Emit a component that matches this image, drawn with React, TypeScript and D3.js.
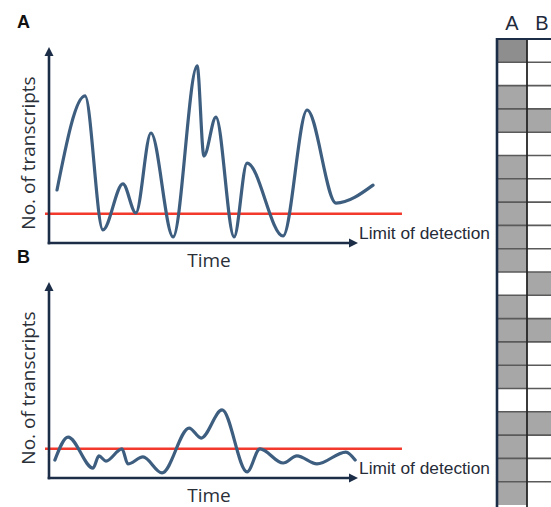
import React from "react";
import * as d3 from "d3";

// Panel A: transcript counts over time (arbitrary units)
const timeA = [2.6, 11.7, 17.5, 24.0, 28.2, 33.1, 40.3, 48.1, 50.3, 54.2, 60.1, 64.3, 76.0, 83.8, 93.2, 105.2];
const countA = [27.2, 75.4, 6.7, 30.3, 15.4, 56.4, 3.1, 90.8, 44.6, 64.6, 3.1, 41.0, 3.6, 68.2, 20.5, 29.7];

// Panel B
const timeB = [1.9, 6.2, 14.3, 16.2, 18.5, 23.7, 25.6, 30.5, 36.7, 45.5, 49.4, 56.2, 64.3, 68.5, 76.0, 80.5, 87.0, 96.4, 99.4];
const countB = [9.2, 21.0, 5.1, 11.3, 8.7, 14.9, 7.2, 10.8, 2.6, 25.6, 20.5, 34.9, 3.1, 14.9, 7.7, 11.3, 7.2, 13.3, 9.2];

const detectionLimit = 15;
const limitEnd = 114.6;

// Grid on the right: 0 = white, 1 = grey, 2 = dark grey
const gridCols = ["A", "B"];
const colA = [2, 0, 1, 1, 0, 1, 1, 1, 1, 1, 0, 1, 1, 1, 1, 0, 1, 1, 1, 1];
const colB = [0, 0, 0, 1, 0, 0, 0, 0, 0, 0, 1, 0, 1, 0, 0, 0, 1, 0, 0, 0];

const AXIS = "#1c2e47";
const CURVE = "#3e5e80";
const RED = "#f2392b";
const labelFont = "'Open Sans', sans-serif";

function Panel({ times, counts, top, letter }: { times: number[]; counts: number[]; top: number; letter: string }) {
  const x0 = 49;
  const yAxis = top + 195;
  const x = d3.scaleLinear().domain([0, 100]).range([x0, 357]);
  const y = d3.scaleLinear().domain([0, 100]).range([yAxis, yAxis - 195]);
  const pts: [number, number][] = times.map((t, i) => [x(t), y(counts[i])]);
  const line = d3.line().curve(d3.curveMonotoneX)(pts) || "";
  const yTop = y(100);
  const xEnd = x(100);
  return (
    <g>
      <text x={17} y={top - 20} fontFamily="'Liberation Sans', Arial, sans-serif" fontWeight="bold" fontSize={18} fill="#111">
        {letter}
      </text>
      <text
        transform={`translate(35,${top + 105}) rotate(-90)`}
        textAnchor="middle"
        fontFamily={labelFont}
        fontSize={19}
        fill="#2a2f38"
      >
        No. of transcripts
      </text>
      <text x={209} y={yAxis + 24} textAnchor="middle" fontFamily={labelFont} fontSize={19} fill="#2a2f38">
        Time
      </text>
      <line x1={45} x2={x(limitEnd)} y1={y(detectionLimit)} y2={y(detectionLimit)} stroke={RED} strokeWidth={2.6} />
      <path d={line} fill="none" stroke={CURVE} strokeWidth={3.2} strokeLinecap="round" />
      <line x1={x0} x2={x0} y1={yTop + 6} y2={yAxis + 1.3} stroke={AXIS} strokeWidth={2.6} />
      <line x1={x0 - 1.3} x2={xEnd - 6} y1={yAxis} y2={yAxis} stroke={AXIS} strokeWidth={2.6} />
      <path d={`M${x0},${yTop - 1} L${x0 - 4.5},${yTop + 8} L${x0 + 4.5},${yTop + 8} Z`} fill={AXIS} />
      <path d={`M${xEnd + 1},${yAxis} L${xEnd - 8},${yAxis - 4.5} L${xEnd - 8},${yAxis + 4.5} Z`} fill={AXIS} />
      <text
        x={359}
        y={yAxis - 4}
        fontFamily="'Liberation Sans', Arial, sans-serif"
        fontSize={16}
        fill="#262c38"
        textLength={131}
        lengthAdjust="spacingAndGlyphs"
      >
        Limit of detection
      </text>
    </g>
  );
}

function Grid() {
  const gx = 497;
  const gy = 39;
  const rowH = 23.3;
  const colW = [30, 30];
  const colX = [gx, gx + colW[0]];
  const fills = ["#ffffff", "#a7a7a7", "#8e8e8e"];
  const cols = [colA, colB];
  return (
    <g>
      {gridCols.map((c, ci) => (
        <text
          key={c}
          x={colX[ci] + colW[ci] / 2}
          y={30}
          textAnchor="middle"
          fontFamily="'Liberation Sans', Arial, sans-serif"
          fontSize={20}
          fill="#1f2a3c"
        >
          {c}
        </text>
      ))}
      {cols.map((vals, ci) =>
        vals.map((v, ri) => (
          <rect key={`${ci}-${ri}`} x={colX[ci]} y={gy + ri * rowH} width={colW[ci]} height={rowH} fill={fills[v]} />
        ))
      )}
      {colA.map((_, ri) =>
        ri === 0 ? null : (
          <line key={`h${ri}`} x1={gx} x2={560} y1={gy + ri * rowH} y2={gy + ri * rowH} stroke="#5a5a5a" strokeWidth={1.6} />
        )
      )}
      <line x1={colX[1]} x2={colX[1]} y1={gy} y2={510} stroke="#262626" strokeWidth={1.8} />
      <line x1={gx} x2={560} y1={gy} y2={gy} stroke={AXIS} strokeWidth={2.2} />
      <line x1={gx} x2={gx} y1={gy - 1} y2={510} stroke={AXIS} strokeWidth={2.6} />
    </g>
  );
}

export default function App() {
  return (
    <svg width={551} height={507} style={{ position: "absolute", left: 0, top: 0, background: "#fff" }}>
      <rect width={551} height={507} fill="#fff" />
      <Panel times={timeA} counts={countA} top={48} letter="A" />
      <Panel times={timeB} counts={countB} top={283} letter="B" />
      <Grid />
    </svg>
  );
}
